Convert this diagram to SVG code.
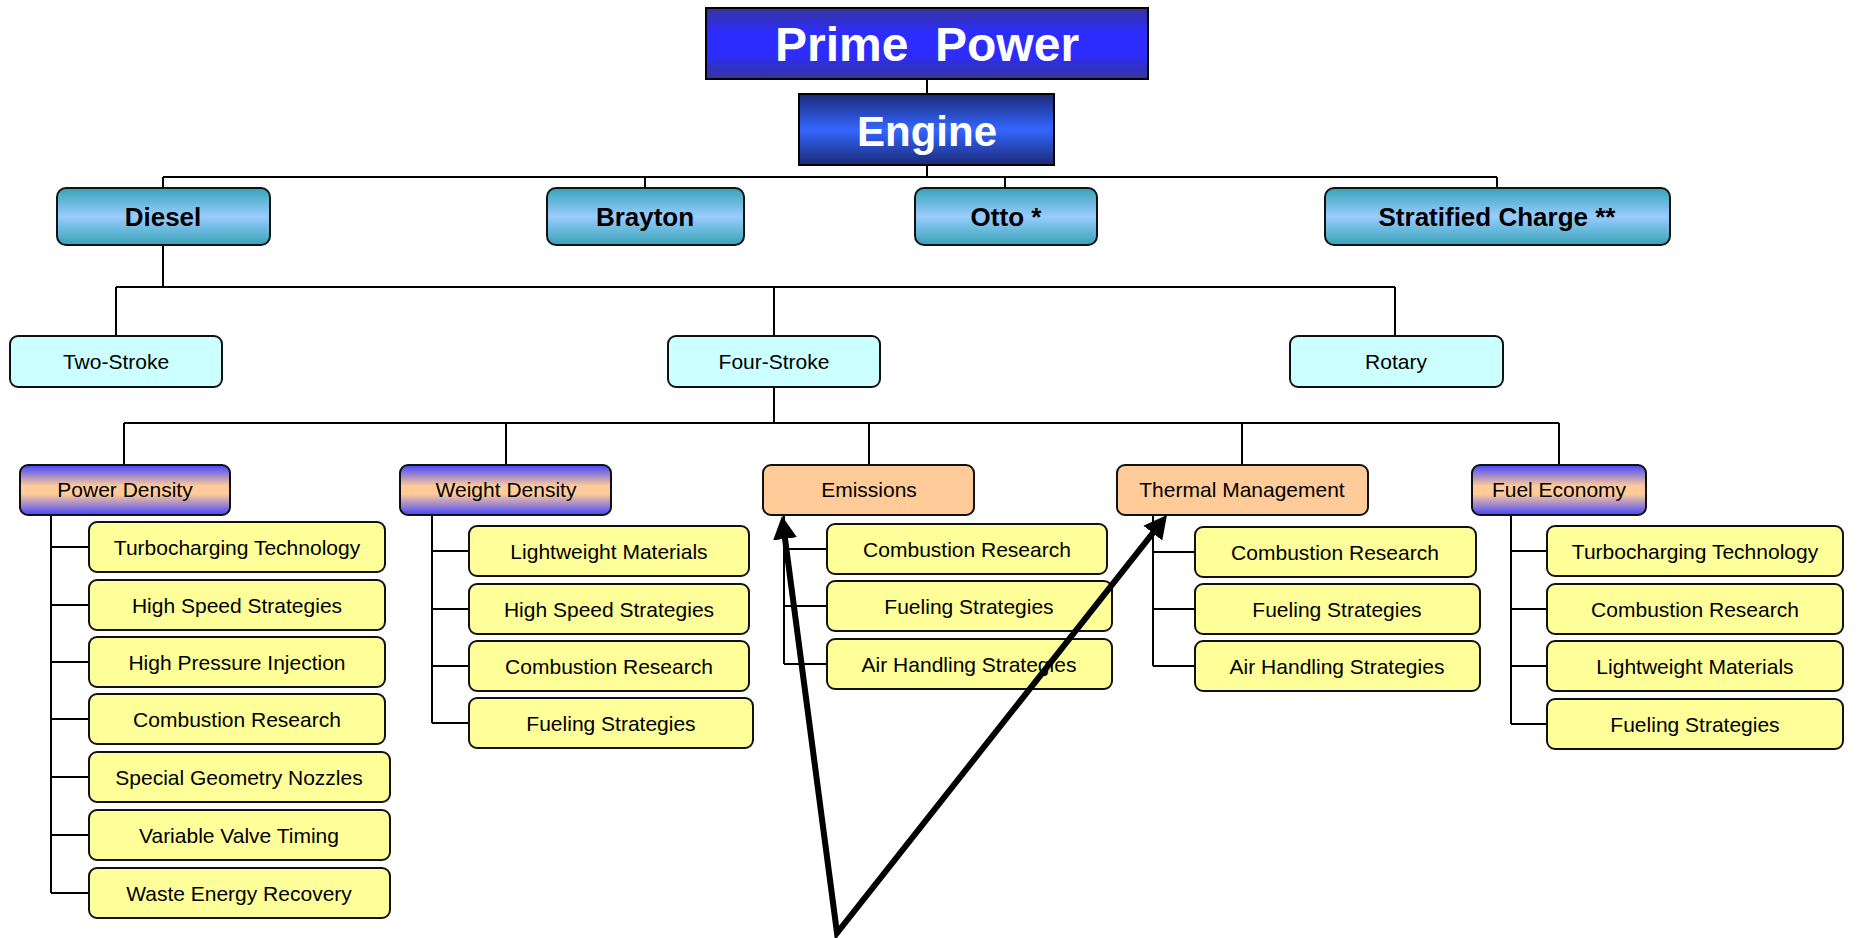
<svg xmlns="http://www.w3.org/2000/svg" width="1857" height="938" viewBox="0 0 1857 938">
<style>
.ln{stroke:#000;stroke-width:2;fill:none}
.box{stroke:#111;stroke-width:2}
.t{font-family:"Liberation Sans",Arial,sans-serif;font-size:21px;fill:#000;text-anchor:middle}
.tb{font-family:"Liberation Sans",Arial,sans-serif;font-size:26px;font-weight:bold;fill:#000;text-anchor:middle}
.tw{font-family:"Liberation Sans",Arial,sans-serif;font-weight:bold;fill:#fff;text-anchor:middle}
.item{fill:#ffff99;stroke:#111;stroke-width:2}
.row2{fill:#ccffff;stroke:#111;stroke-width:2}
.peach{fill:#ffcc99;stroke:#111;stroke-width:2}
.bp{fill:url(#gBP);stroke:#111;stroke-width:2}
.teal{fill:url(#gTeal);stroke:#111;stroke-width:2}
</style>
<defs>
<linearGradient id="gPrime" x1="0" y1="0" x2="0" y2="1">
<stop offset="0" stop-color="#35359a"/><stop offset="0.35" stop-color="#2c2cff"/><stop offset="0.65" stop-color="#2c2cff"/><stop offset="1" stop-color="#35359a"/>
</linearGradient>
<linearGradient id="gEngine" x1="0" y1="0" x2="0" y2="1">
<stop offset="0" stop-color="#1c2a78"/><stop offset="0.5" stop-color="#3366ff"/><stop offset="1" stop-color="#1c2a78"/>
</linearGradient>
<linearGradient id="gTeal" x1="0" y1="0" x2="0" y2="1">
<stop offset="0" stop-color="#36a3b5"/><stop offset="0.5" stop-color="#99ccff"/><stop offset="1" stop-color="#36a3b5"/>
</linearGradient>
<linearGradient id="gBP" x1="0" y1="0" x2="0" y2="1">
<stop offset="0" stop-color="#4444ff"/><stop offset="0.42" stop-color="#ffcc99"/><stop offset="0.58" stop-color="#ffcc99"/><stop offset="1" stop-color="#4444ff"/>
</linearGradient>
<marker id="ah" markerUnits="userSpaceOnUse" markerWidth="24" markerHeight="24" viewBox="0 0 24 24" refX="1" refY="12" orient="auto-start-reverse">
<path d="M0,0 L23,12 L0,24 z" fill="#000"/>
</marker>
</defs>
<rect width="1857" height="938" fill="#fff"/>

<g id="connectors">
<path class="ln" d="M927,79 V94 M927,165 V177 M163,177 H1497 M163,177 V188 M645,177 V188 M1005,177 V188 M1497,177 V188"/>
<path class="ln" d="M163,245 V287 M116,287 H1395 M116,287 V336 M774,287 V336 M1395,287 V336"/>
<path class="ln" d="M774,387 V423 M124,423 H1559 M124,423 V465 M506,423 V465 M869,423 V465 M1242,423 V465 M1559,423 V465"/>
<path class="ln" d="M51,515 V893 M51,547 H89 M51,605 H89 M51,662 H89 M51,719 H89 M51,777 H89 M51,835 H89 M51,893 H89"/>
<path class="ln" d="M432,515 V723 M432,551 H469 M432,609 H469 M432,666 H469 M432,723 H469"/>
<path class="ln" d="M784,515 V664 M784,549 H827 M784,606 H827 M784,664 H827"/>
<path class="ln" d="M1153,515 V666 M1153,552 H1195 M1153,609 H1195 M1153,666 H1195"/>
<path class="ln" d="M1511,515 V724 M1511,551 H1547 M1511,609 H1547 M1511,666 H1547 M1511,724 H1547"/>
</g>

<g id="prime-power"><rect x="706" y="8" width="442" height="71" fill="url(#gPrime)" stroke="#000" stroke-width="2"/><text class="tw" x="927" y="61" font-size="48" xml:space="preserve">Prime  Power</text></g>
<g id="engine"><rect x="799" y="94" width="255" height="71" fill="url(#gEngine)" stroke="#000" stroke-width="2"/><text class="tw" x="927" y="146" font-size="42">Engine</text></g>

<g id="diesel"><rect class="teal" x="57" y="188" width="213" height="57" rx="9"/><text class="tb" x="163" y="226">Diesel</text></g>
<g id="brayton"><rect class="teal" x="547" y="188" width="197" height="57" rx="9"/><text class="tb" x="645" y="226">Brayton</text></g>
<g id="otto"><rect class="teal" x="915" y="188" width="182" height="57" rx="9"/><text class="tb" x="1006" y="226">Otto *</text></g>
<g id="stratified"><rect class="teal" x="1325" y="188" width="345" height="57" rx="9"/><text class="tb" x="1497" y="226">Stratified Charge **</text></g>

<g id="two-stroke"><rect class="row2" x="10" y="336" width="212" height="51" rx="8"/><text class="t" x="116" y="369">Two-Stroke</text></g>
<g id="four-stroke"><rect class="row2" x="668" y="336" width="212" height="51" rx="8"/><text class="t" x="774" y="369">Four-Stroke</text></g>
<g id="rotary"><rect class="row2" x="1290" y="336" width="213" height="51" rx="8"/><text class="t" x="1396" y="369">Rotary</text></g>

<g id="power-density"><rect class="bp" x="20" y="465" width="210" height="50" rx="8"/><text class="t" x="125" y="497">Power Density</text></g>
<g id="weight-density"><rect class="bp" x="400" y="465" width="211" height="50" rx="8"/><text class="t" x="506" y="497">Weight Density</text></g>
<g id="emissions"><rect class="peach" x="763" y="465" width="211" height="50" rx="8"/><text class="t" x="869" y="497">Emissions</text></g>
<g id="thermal-management"><rect class="peach" x="1117" y="465" width="251" height="50" rx="8"/><text class="t" x="1242" y="497">Thermal Management</text></g>
<g id="fuel-economy"><rect class="bp" x="1472" y="465" width="174" height="50" rx="8"/><text class="t" x="1559" y="497">Fuel Economy</text></g>

<g id="pd-1"><rect class="item" x="89" y="522" width="296" height="50" rx="8"/><text class="t" x="237" y="554.5">Turbocharging Technology</text></g>
<g id="pd-2"><rect class="item" x="89" y="580" width="296" height="50" rx="8"/><text class="t" x="237" y="612.5">High Speed Strategies</text></g>
<g id="pd-3"><rect class="item" x="89" y="637" width="296" height="50" rx="8"/><text class="t" x="237" y="669.5">High Pressure Injection</text></g>
<g id="pd-4"><rect class="item" x="89" y="694" width="296" height="50" rx="8"/><text class="t" x="237" y="726.5">Combustion Research</text></g>
<g id="pd-5"><rect class="item" x="89" y="752" width="301" height="50" rx="8"/><text class="t" x="239" y="784.5">Special Geometry Nozzles</text></g>
<g id="pd-6"><rect class="item" x="89" y="810" width="301" height="50" rx="8"/><text class="t" x="239" y="842.5">Variable Valve Timing</text></g>
<g id="pd-7"><rect class="item" x="89" y="868" width="301" height="50" rx="8"/><text class="t" x="239" y="900.5">Waste Energy Recovery</text></g>

<g id="wd-1"><rect class="item" x="469" y="526" width="280" height="50" rx="8"/><text class="t" x="609" y="558.5">Lightweight Materials</text></g>
<g id="wd-2"><rect class="item" x="469" y="584" width="280" height="50" rx="8"/><text class="t" x="609" y="616.5">High Speed Strategies</text></g>
<g id="wd-3"><rect class="item" x="469" y="641" width="280" height="50" rx="8"/><text class="t" x="609" y="673.5">Combustion Research</text></g>
<g id="wd-4"><rect class="item" x="469" y="698" width="284" height="50" rx="8"/><text class="t" x="611" y="730.5">Fueling Strategies</text></g>

<g id="em-1"><rect class="item" x="827" y="524" width="280" height="50" rx="8"/><text class="t" x="967" y="556.5">Combustion Research</text></g>
<g id="em-2"><rect class="item" x="827" y="581" width="285" height="50" rx="8"/><text class="t" x="969" y="613.5">Fueling Strategies</text></g>
<g id="em-3"><rect class="item" x="827" y="639" width="285" height="50" rx="8"/><text class="t" x="969" y="671.5">Air Handling Strategies</text></g>

<g id="tm-1"><rect class="item" x="1195" y="527" width="281" height="50" rx="8"/><text class="t" x="1335" y="559.5">Combustion Research</text></g>
<g id="tm-2"><rect class="item" x="1195" y="584" width="285" height="50" rx="8"/><text class="t" x="1337" y="616.5">Fueling Strategies</text></g>
<g id="tm-3"><rect class="item" x="1195" y="641" width="285" height="50" rx="8"/><text class="t" x="1337" y="673.5">Air Handling Strategies</text></g>

<g id="fe-1"><rect class="item" x="1547" y="526" width="296" height="50" rx="8"/><text class="t" x="1695" y="558.5">Turbocharging Technology</text></g>
<g id="fe-2"><rect class="item" x="1547" y="584" width="296" height="50" rx="8"/><text class="t" x="1695" y="616.5">Combustion Research</text></g>
<g id="fe-3"><rect class="item" x="1547" y="641" width="296" height="50" rx="8"/><text class="t" x="1695" y="673.5">Lightweight Materials</text></g>
<g id="fe-4"><rect class="item" x="1547" y="699" width="296" height="50" rx="8"/><text class="t" x="1695" y="731.5">Fueling Strategies</text></g>

<g id="arrows">
<path d="M784.9,537.8 L837,933 L1153.4,532.3" fill="none" stroke="#000" stroke-width="6" stroke-linejoin="miter" marker-start="url(#ah)" marker-end="url(#ah)"/>
</g>
</svg>
